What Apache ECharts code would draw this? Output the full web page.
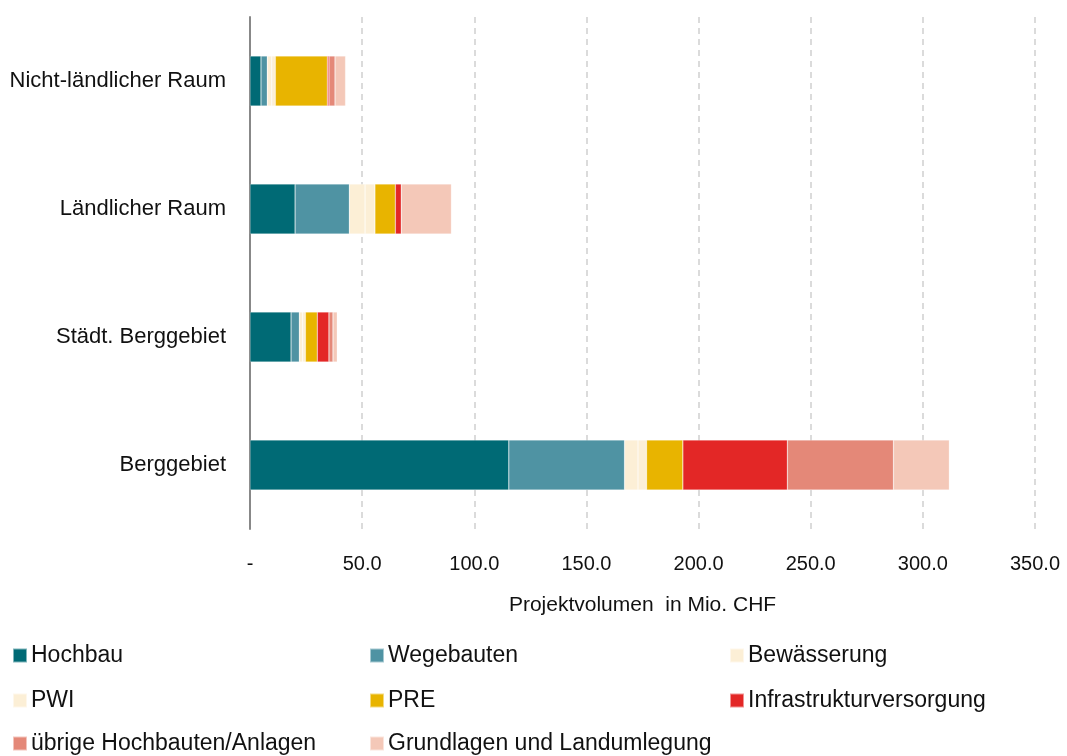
<!DOCTYPE html>
<html>
<head>
<meta charset="utf-8">
<script src="https://cdn.jsdelivr.net/npm/echarts@6/dist/echarts.min.js"></script>
<style>
  html, body { margin: 0; padding: 0; background: #fff; }
  #chart { width: 1067px; height: 756px; }
</style>
</head>
<body>
<div id="chart"></div>
<script>
// categories, bottom to top
var categories = ['Berggebiet', 'Städt. Berggebiet', 'Ländlicher Raum', 'Nicht-ländlicher Raum'];

// values in Mio. CHF, same order as categories
var hochbau      = [115.4, 18.3, 20.1, 4.9];
var wegebauten   = [51.6, 3.7, 24.2, 2.8];
var bewaesserung = [6.0, 1.5, 7.0, 2.0];
var pwi          = [3.8, 1.2, 4.4, 1.6];
var pre          = [16.2, 5.3, 9.1, 23.2];
var infra        = [46.6, 5.2, 2.7, 0.7];
var uebrige      = [47.3, 1.8, 0, 2.7];
var grundlagen   = [24.9, 1.9, 22.3, 4.7];

var xTicks = [0, 50, 100, 150, 200, 250, 300, 350];

var seriesDefs = [
    {name: 'Hochbau', data: hochbau, color: '#006a75'},
    {name: 'Wegebauten', data: wegebauten, color: '#4f93a3'},
    {name: 'Bewässerung', data: bewaesserung, color: '#fcefd6'},
    {name: 'PWI', data: pwi, color: '#fcefd6'},
    {name: 'PRE', data: pre, color: '#e8b400'},
    {name: 'Infrastrukturversorgung', data: infra, color: '#e32726'},
    {name: 'übrige Hochbauten/Anlagen', data: uebrige, color: '#e48878'},
    {name: 'Grundlagen und Landumlegung', data: grundlagen, color: '#f4c8b8'}
];

// legend grid: 3 columns, 3 rows
var legendCols = [7, 364, 724];
var legendRows = [639, 684, 727];

var font = "'Liberation Sans Narrow', 'Liberation Sans', Arial, sans-serif";

var series = seriesDefs.map(function (s) {
    return {
        name: s.name, type: 'bar', stack: 'total', data: s.data,
        barWidth: 50,
        itemStyle: {color: s.color, borderColor: 'rgba(255,255,255,0.5)', borderWidth: 0.5},
        emphasis: {disabled: true}
    };
});

var legends = seriesDefs.map(function (s, i) {
    return {
        left: legendCols[i % 3], top: legendRows[Math.floor(i / 3)],
        itemWidth: 14, itemHeight: 14, icon: 'rect', itemGap: 0,
        selectedMode: false,
        textStyle: {fontFamily: font, fontSize: 23, color: '#111', padding: [0, 0, 0, -1]},
        data: [s.name]
    };
});

var option = {
    animation: false,
    grid: {left: 250, right: 32, top: 17, bottom: 227, containLabel: false},
    legend: legends,
    xAxis: {
        type: 'value', min: xTicks[0], max: xTicks[xTicks.length - 1], interval: 50,
        name: 'Projektvolumen  in Mio. CHF', nameLocation: 'middle', nameGap: 66,
        nameTextStyle: {fontFamily: font, fontSize: 21, color: '#111'},
        axisLine: {show: false}, axisTick: {show: false},
        axisLabel: {
            margin: 25, fontFamily: font, fontSize: 20, color: '#111',
            formatter: function (v) { return v === 0 ? '-' : v.toFixed(1); }
        },
        splitLine: {show: true, lineStyle: {color: '#d0d0d0', type: [6, 5], width: 1.5}}
    },
    yAxis: {
        type: 'category', data: categories,
        axisLine: {show: true, lineStyle: {color: '#888', width: 2}},
        axisTick: {show: false},
        axisLabel: {margin: 24, fontFamily: font, fontSize: 22, color: '#111'}
    },
    series: series
};

var chart = echarts.init(document.getElementById('chart'));
chart.setOption(option);
</script>
</body>
</html>
